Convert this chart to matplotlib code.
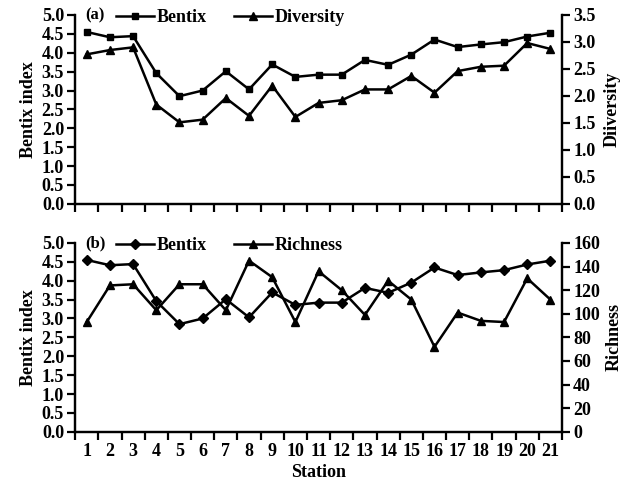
import numpy as np
from matplotlib import pyplot as plt

plt.rcParams['font.family'] = 'Liberation Serif'
plt.rcParams['font.weight'] = 'bold'
plt.rcParams['axes.labelweight'] = 'bold'
plt.rcParams['font.size'] = 13

# Data
stations = np.arange(1, 22)
bentix = [4.55, 4.41, 4.44, 3.46, 2.85, 3.00, 3.51, 3.03, 3.69, 3.36, 3.42,
          3.42, 3.81, 3.68, 3.95, 4.35, 4.15, 4.22, 4.28, 4.43, 4.53]
diversity = [2.77, 2.85, 2.90, 1.84, 1.51, 1.56, 1.96, 1.63, 2.19, 1.61, 1.87,
             1.92, 2.12, 2.12, 2.37, 2.06, 2.46, 2.54, 2.56, 2.98, 2.87]
richness = [93, 124, 125, 103, 125, 125, 103, 145, 131, 93, 136,
            120, 99, 128, 112, 72, 101, 94, 93, 130, 112]

fig = plt.figure(figsize=(6.21, 4.83), dpi=100)
ax1 = fig.add_axes([0.121, 0.578, 0.784, 0.391])
ax2 = fig.add_axes([0.121, 0.106, 0.784, 0.391])


def style_axes(ax, twin, show_labels):
    for a in (ax, twin):
        a.spines['top'].set_visible(False)
        for s in a.spines.values():
            s.set_linewidth(1.6)
        a.tick_params(width=1.6, length=6, direction='out', labelsize=13, pad=2)
    ax.set_xlim(0.5, 21.5)
    ax.set_ylim(0, 5)
    ax.set_yticks(np.arange(0, 5.01, 0.5))
    ax.set_yticklabels(['%.1f' % v for v in np.arange(0, 5.01, 0.5)])
    ax.set_xticks(np.arange(0.5, 21.6, 1))
    ax.set_xticklabels([])
    ax.set_xticks(stations, minor=True)
    ax.tick_params(axis='x', which='minor', length=0, labelsize=13, pad=8)
    if show_labels:
        ax.set_xticklabels([str(s) for s in stations], minor=True)
    ax.set_ylabel('Bentix index', fontsize=13, labelpad=3)


# Panel (a)
tw1 = ax1.twinx()
l1, = ax1.plot(stations, bentix, color='black', lw=1.8, marker='s', ms=5)
l2, = tw1.plot(stations, diversity, color='black', lw=1.8, marker='^', ms=6)
tw1.set_ylim(0, 3.5)
tw1.set_yticks(np.arange(0, 3.51, 0.5))
tw1.set_yticklabels(['%.1f' % v for v in np.arange(0, 3.51, 0.5)])
tw1.set_ylabel('Diiversity', fontsize=13, labelpad=6)
style_axes(ax1, tw1, False)
ax1.text(0.02, 1.0, '(a)', transform=ax1.transAxes, va='center', fontsize=12)
ax1.legend([l1, l2], ['Bentix', 'Diversity'], ncol=2, frameon=False,
           loc='center left', bbox_to_anchor=(0.065, 0.985), borderpad=0,
           handlelength=2.1, handletextpad=0.15, columnspacing=1.5, fontsize=13)

# Panel (b)
tw2 = ax2.twinx()
l3, = ax2.plot(stations, bentix, color='black', lw=1.8, marker='D', ms=5)
l4, = tw2.plot(stations, richness, color='black', lw=1.8, marker='^', ms=6)
tw2.set_ylim(0, 160)
tw2.set_yticks(np.arange(0, 161, 20))
tw2.set_ylabel('Richness', fontsize=13, labelpad=4)
style_axes(ax2, tw2, True)
ax2.set_xlabel('Station', fontsize=13, labelpad=3)
ax2.text(0.02, 1.0, '(b)', transform=ax2.transAxes, va='center', fontsize=12)
ax2.legend([l3, l4], ['Bentix', 'Richness'], ncol=2, frameon=False,
           loc='center left', bbox_to_anchor=(0.065, 0.985), borderpad=0,
           handlelength=2.1, handletextpad=0.15, columnspacing=1.5, fontsize=13)

fig.savefig('out.png', dpi=100)
